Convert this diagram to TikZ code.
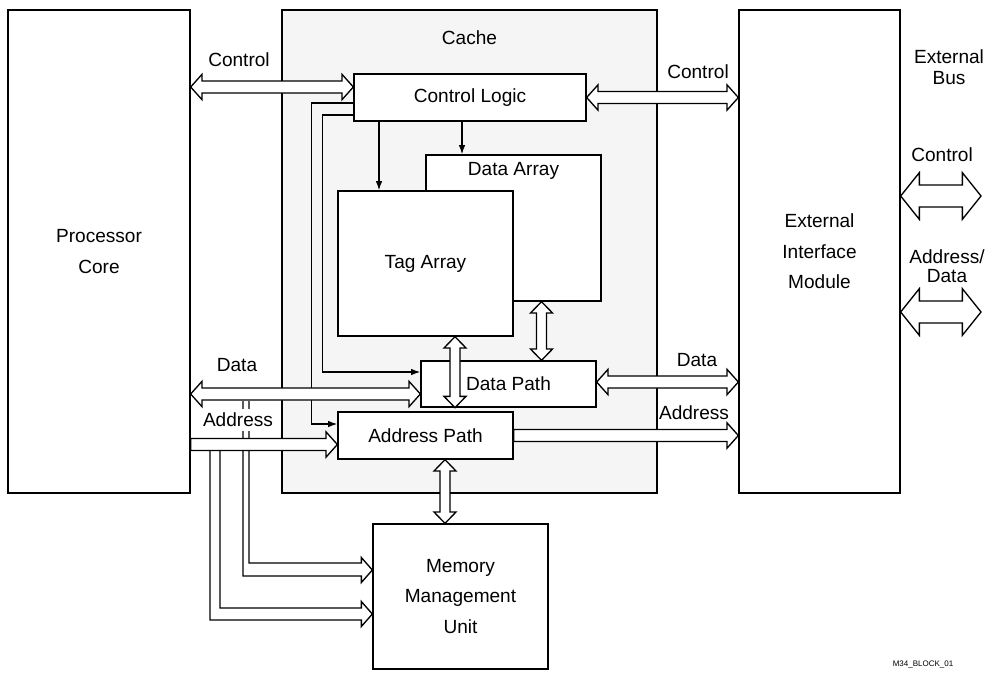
\documentclass[tikz,border=0pt]{standalone}
\usepackage{fontspec}
\setmainfont{Liberation Sans}
\usetikzlibrary{calc}
\usetikzlibrary{arrows.meta}
\definecolor{cachegray}{RGB}{245,245,245}
\tikzstyle{block}=[draw, line width=1pt, fill=white, align=center]
\tikzstyle{bus}=[draw, line width=1pt, fill=white]
\tikzstyle{ctl}=[line width=1pt, -{Latex[length=7pt, width=5pt]}]
\tikzstyle{lbl}=[inner sep=1pt, align=center]

% bus arrow sizes: shaft half width, head half width, head length
\def\busw{4.5pt}
\def\bush{9.5pt}
\def\busl{8.5pt}
% hollow bus arrow with two heads
\newcommand{\busboth}[2]{%
  \draw[bus] (#1)
    -- ($(#1)!\busl!(#2)!\bush!90:(#2)$)
    -- ($(#1)!\busl!(#2)!\busw!90:(#2)$)
    -- ($(#2)!\busl!(#1)!\busw!-90:(#1)$)
    -- ($(#2)!\busl!(#1)!\bush!-90:(#1)$)
    -- (#2)
    -- ($(#2)!\busl!(#1)!\bush!90:(#1)$)
    -- ($(#2)!\busl!(#1)!\busw!90:(#1)$)
    -- ($(#1)!\busl!(#2)!\busw!-90:(#2)$)
    -- ($(#1)!\busl!(#2)!\bush!-90:(#2)$)
    -- cycle;}
% hollow bus arrow with one head
\newcommand{\busone}[2]{%
  \draw[bus] ($(#1)!\busw!90:(#2)$)
    -- ($(#2)!\busl!(#1)!\busw!-90:(#1)$)
    -- ($(#2)!\busl!(#1)!\bush!-90:(#1)$)
    -- (#2)
    -- ($(#2)!\busl!(#1)!\bush!90:(#1)$)
    -- ($(#2)!\busl!(#1)!\busw!90:(#1)$)
    -- ($(#1)!\busw!-90:(#2)$)
    -- cycle;}

\begin{document}
\begin{tikzpicture}[x=0.75pt, y=-0.75pt, font=\fontsize{14.3}{23}\selectfont]
  \useasboundingbox (0, 0) rectangle (987, 672);

  % outer blocks
  \node[block, minimum width=136.5pt, minimum height=362.25pt] (core) at (99, 251.5) {Processor\\Core};
  \node[block, fill=cachegray, minimum width=281.25pt, minimum height=362.25pt] (cache) at (469.5, 251.5) {};
  \node[block, minimum width=120.75pt, minimum height=362.25pt] (eim) at (819.5, 251.5) {External\\Interface\\Module};
  \node[lbl] (cache_txt) at ($(cache.north)+(0, 28)$) {Cache};

  % inside the cache
  \node[block, minimum width=131.25pt, minimum height=109.5pt] (darray) at (513.5, 228) {};
  \node[lbl] (darray_txt) at ($(darray.north)+(0, 17)$) {Data Array};
  \node[block, minimum width=131.25pt, minimum height=108.75pt] (tag) at (425.5, 263.5) {Tag Array};
  \node[block, minimum width=174pt, minimum height=35.25pt] (clogic) at (470, 97.5) {Control Logic};
  \node[block, minimum width=131.25pt, minimum height=35.25pt] (apath) at (425.5, 435.5) {Address Path};
  \node[block, minimum width=131.25pt, minimum height=108.75pt] (mmu) at (460.5, 596.5) {Memory\\Management\\Unit};

  % control lines
  \coordinate (tag_in) at ($(tag.north)+(-46.5, 0)$);
  \coordinate (darray_in) at ($(darray.north)+(-51.5, 0)$);
  \draw[ctl] (clogic.south -| tag_in) -- (tag_in);
  \draw[ctl] (clogic.south -| darray_in) -- (darray_in);
  \draw[ctl] ($(clogic.west)+(0, 5.5)$) -- ++(-42, 0) |- ($(apath.west)+(0, -11.5)$);

  % address lines down to the MMU
  \coordinate (mmu_a) at ($(mmu.west)+(0, -26.5)$);
  \coordinate (mmu_b) at ($(mmu.west)+(0, 17.5)$);
  \draw[line width=1pt] (249, 401) |- ($(mmu_a)+(-11, -7)$) -- ++(0, -5.5) -- (mmu_a)
    -- ++(-11, 12.5) -- ++(0, -6.5) -| (243, 401);
  \draw[line width=1pt] (220, 450) |- ($(mmu_b)+(-11, -6)$) -- ++(0, -6.5) -- (mmu_b)
    -- ++(-11, 12.5) -- ++(0, -6.5) -| (210, 450);

  % buses
  \coordinate (ctrl_in) at ($(clogic.west)+(0, -10.5)$);
  \busboth{core.east |- ctrl_in}{ctrl_in}
  \busboth{clogic.east}{eim.west |- clogic.east}

  \node[block, minimum width=131.25pt, minimum height=34.5pt] (dpath) at (508.5, 384) {Data Path};
  \coordinate (data_in) at ($(dpath.west)+(0, 10)$);
  \coordinate (data_out) at ($(dpath.east)+(0, -2)$);
  \coordinate (addr_in) at ($(apath.west)+(0, 9)$);
  \draw[ctl] ($(clogic.west)+(0, 17.5)$) -- ++(-31, 0) |- ($(dpath.west)+(0, -12)$);

  \busboth{core.east |- data_in}{data_in}
  \busboth{data_out}{eim.west |- data_out}
  \node[lbl, fill=white, inner ysep=3pt] (addr_txt) at (238, 420) {Address};
  \busone{core.east |- addr_in}{addr_in}
  \busone{apath.east}{eim.west |- apath.east}

  \begin{scope}
    \def\busw{3.75pt}
    \def\bush{8.25pt}
    \coordinate (tag_bus) at ($(tag.south)+(29.5, 0)$);
    \coordinate (darray_bus) at ($(darray.south)+(28, 0)$);
    \coordinate (mmu_bus) at ($(apath.south)+(19.5, 0)$);
    \busboth{tag_bus}{dpath.south -| tag_bus}
    \busboth{darray_bus}{dpath.north -| darray_bus}
    \busboth{mmu_bus}{mmu.north -| mmu_bus}
  \end{scope}

  % external bus
  \begin{scope}
    \def\busw{8.25pt}
    \def\bush{17.5pt}
    \def\busl{14pt}
    \coordinate (xbus_ctrl) at (981, 196);
    \coordinate (xbus_ad) at (981, 312);
    \busboth{eim.east |- xbus_ctrl}{xbus_ctrl}
    \busboth{eim.east |- xbus_ad}{xbus_ad}
  \end{scope}

  % labels
  \node[lbl] (ctrl_l) at (239, 60) {Control};
  \node[lbl] (ctrl_r) at (698, 72) {Control};
  \node[lbl] (data_l) at (237, 365) {Data};
  \node[lbl] (data_r) at (697, 360) {Data};
  \node[lbl] (addr_r) at (694, 413) {Address};
  \node[lbl, font=\fontsize{14.3}{16}\selectfont] (xbus_txt) at (949, 67) {External\\Bus};
  \node[lbl] (xctrl_txt) at (942, 155) {Control};
  \node[lbl, font=\fontsize{14.3}{14.5}\selectfont] (xad_txt) at (947, 266) {Address/\\Data};
  \node[lbl, font=\fontsize{6}{7}\selectfont] (fig_id) at (923, 664) {M34\_BLOCK\_01};
\end{tikzpicture}
\end{document}
